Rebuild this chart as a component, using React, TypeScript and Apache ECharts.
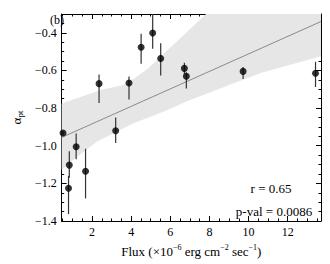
import React, { useEffect, useRef } from "react";
import * as echarts from "echarts";

// ---- data ----
const fluxX = [0.52, 0.84, 0.8, 1.19, 1.67, 2.36, 3.21, 3.89, 4.51, 5.1, 5.51, 6.72, 6.82, 9.72, 13.42];
const alphaY = [-0.932, -1.103, -1.226, -1.005, -1.136, -0.67, -0.92, -0.667, -0.477, -0.401, -0.536, -0.589, -0.631, -0.605, -0.615];
const errLow = [-0.945, -1.17, -1.363, -1.072, -1.28, -0.773, -0.985, -0.755, -0.564, -0.484, -0.627, -0.619, -0.696, -0.645, -0.688];
const errHigh = [-0.92, -1.03, -1.16, -0.935, -1.016, -0.622, -0.85, -0.632, -0.405, -0.297, -0.456, -0.559, -0.61, -0.581, -0.554];

const fitX = [0.45, 13.7];
const fitY = [-0.956, -0.34];

const bandUpperX = [0.45, 2.49, 3.55, 4.18, 4.91, 5.88, 6.85, 7.78, 8.2, 13.7];
const bandUpperY = [-0.775, -0.703, -0.679, -0.641, -0.585, -0.49, -0.395, -0.305, -0.26, -0.26];
const bandLowerX = [0.45, 1.27, 2.24, 3.21, 4.09, 5.74, 6.85, 9.28, 10.74, 13.7];
const bandLowerY = [-1.128, -1.056, -0.979, -0.928, -0.882, -0.815, -0.764, -0.667, -0.61, -0.525];

const xMajor = [2, 4, 6, 8, 10, 12];
const xMinor = [0.5, 1, 1.5, 2.5, 3, 3.5, 4.5, 5, 5.5, 6.5, 7, 7.5, 8.5, 9, 9.5, 10.5, 11, 11.5, 12.5, 13, 13.5];
const yMajor = [-1.4, -1.2, -1.0, -0.8, -0.6, -0.4];
const yMinor = [-1.35, -1.3, -1.25, -1.15, -1.1, -1.05, -0.95, -0.9, -0.85, -0.75, -0.7, -0.65, -0.55, -0.5, -0.45, -0.35];

const rText = "r = 0.65";
const pText = "p-val = 0.0086";
const panelText = "(b)";

const FONT = '"Liberation Serif", "DejaVu Serif", serif';

export default function App() {
  const ref = useRef<HTMLDivElement>(null);
  useEffect(() => {
    if (!ref.current) return;
    const chart = echarts.init(ref.current, null, { renderer: "svg" });
    const xMin = 0.45, xMax = 13.7, yMin = -1.4, yMax = -0.3;
    const frame = { show: true, lineStyle: { color: "#000", width: 1 } };
    const mkX = (pos: string, ticks: number[], len: number, line: boolean, labels: boolean, extra: any = {}) => ({
      type: "value", position: pos, min: xMin, max: xMax,
      axisLine: line ? frame : { show: false },
      axisTick: { show: true, inside: true, length: len, customValues: ticks, lineStyle: { color: "#000", width: 1 } },
      axisLabel: labels
        ? { show: true, customValues: ticks, color: "#000", fontFamily: FONT, fontSize: 12, margin: 5 }
        : { show: false },
      splitLine: { show: false },
      ...extra,
    });
    const mkY = (pos: string, ticks: number[], len: number, line: boolean, labels: boolean, extra: any = {}) => ({
      type: "value", position: pos, min: yMin, max: yMax,
      axisLine: line ? frame : { show: false },
      axisTick: { show: true, inside: true, length: len, customValues: ticks, lineStyle: { color: "#000", width: 1 } },
      axisLabel: labels
        ? {
            show: true, customValues: ticks, color: "#000", fontFamily: FONT, fontSize: 12, margin: 5,
            formatter: (v: number) => v.toFixed(1).replace("-", "\u2212"),
          }
        : { show: false },
      splitLine: { show: false },
      ...extra,
    });

    const errData = fluxX.map((x, i) => [x, errLow[i], errHigh[i]]);
    const pts = fluxX.map((x, i) => [x, alphaY[i]]);

    chart.setOption({
      animation: false,
      backgroundColor: "#fff",
      grid: { left: 48, right: 9, top: 14, bottom: 35, containLabel: false },
      xAxis: [
        mkX("bottom", xMajor, 5, true, true, {
          name: "Flux (\u00d710{sup|\u22126} erg cm{sup|\u22122} sec{sup|\u22121})",
          nameLocation: "middle",
          nameGap: 22,
          nameTextStyle: {
            color: "#000", fontFamily: FONT, fontSize: 13, lineHeight: 16,
            rich: { sup: { fontFamily: FONT, fontSize: 8, verticalAlign: "top", lineHeight: 16, color: "#000" } },
          },
        }),
        mkX("top", xMajor, 5, true, false),
        mkX("bottom", xMinor, 2.5, false, false),
        mkX("top", xMinor, 2.5, false, false),
      ],
      yAxis: [
        mkY("left", yMajor, 5, true, true, {
          name: "\u03b1{sub|pt}",
          nameLocation: "middle",
          nameGap: 35,
          nameRotate: 90,
          nameTextStyle: {
            color: "#000", fontFamily: FONT, fontSize: 13, lineHeight: 16,
            rich: { sub: { fontFamily: FONT, fontSize: 9, verticalAlign: "bottom", lineHeight: 16, color: "#000" } },
          },
        }),
        mkY("right", yMajor, 5, true, false),
        mkY("left", yMinor, 2.5, false, false),
        mkY("right", yMinor, 2.5, false, false),
      ],
      series: [
        {
          type: "custom",
          xAxisIndex: 0, yAxisIndex: 0,
          clip: true,
          silent: true,
          z: 1,
          data: [[bandUpperX[0], bandUpperY[0]]],
          renderItem: (_params: any, api: any) => {
            const up = bandUpperX.map((x, i) => api.coord([x, bandUpperY[i]]));
            const lo = bandLowerX.map((x, i) => api.coord([x, bandLowerY[i]])).reverse();
            return {
              type: "polygon",
              shape: { points: up.concat(lo) },
              style: { fill: "#e6e6e6", stroke: "none" },
            };
          },
        },
        {
          type: "line",
          xAxisIndex: 0, yAxisIndex: 0,
          data: fitX.map((x, i) => [x, fitY[i]]),
          showSymbol: false,
          symbol: "none",
          lineStyle: { color: "#8a8a8a", width: 1 },
          z: 2,
        },
        {
          type: "custom",
          xAxisIndex: 0, yAxisIndex: 0,
          clip: true,
          z: 3,
          data: errData,
          encode: { x: 0, y: [1, 2] },
          renderItem: (_params: any, api: any) => {
            const a = api.coord([api.value(0), api.value(1)]);
            const b = api.coord([api.value(0), api.value(2)]);
            return {
              type: "line",
              shape: { x1: a[0], y1: a[1], x2: b[0], y2: b[1] },
              style: { stroke: "#333", lineWidth: 1.2 },
            };
          },
        },
        {
          type: "scatter",
          xAxisIndex: 0, yAxisIndex: 0,
          data: pts,
          symbol: "circle",
          symbolSize: 7,
          itemStyle: { color: "#000" },
          z: 4,
        },
      ],
      graphic: [
        {
          type: "text", left: 50, top: 14, z: 100,
          style: { text: panelText, font: `12px ${FONT}`, fill: "#000" },
        },
        {
          type: "text", x: 271, y: 188, z: 100,
          style: { text: rText, font: `13px ${FONT}`, fill: "#000", textAlign: "center", textVerticalAlign: "middle" },
        },
        {
          type: "text", x: 274, y: 211, z: 100,
          style: { text: pText, font: `13px ${FONT}`, fill: "#000", textAlign: "center", textVerticalAlign: "middle" },
        },
      ],
    });
    return () => chart.dispose();
  }, []);
  return <div ref={ref} style={{ width: 330, height: 264, position: "absolute", left: 0, top: 0 }} />;
}
